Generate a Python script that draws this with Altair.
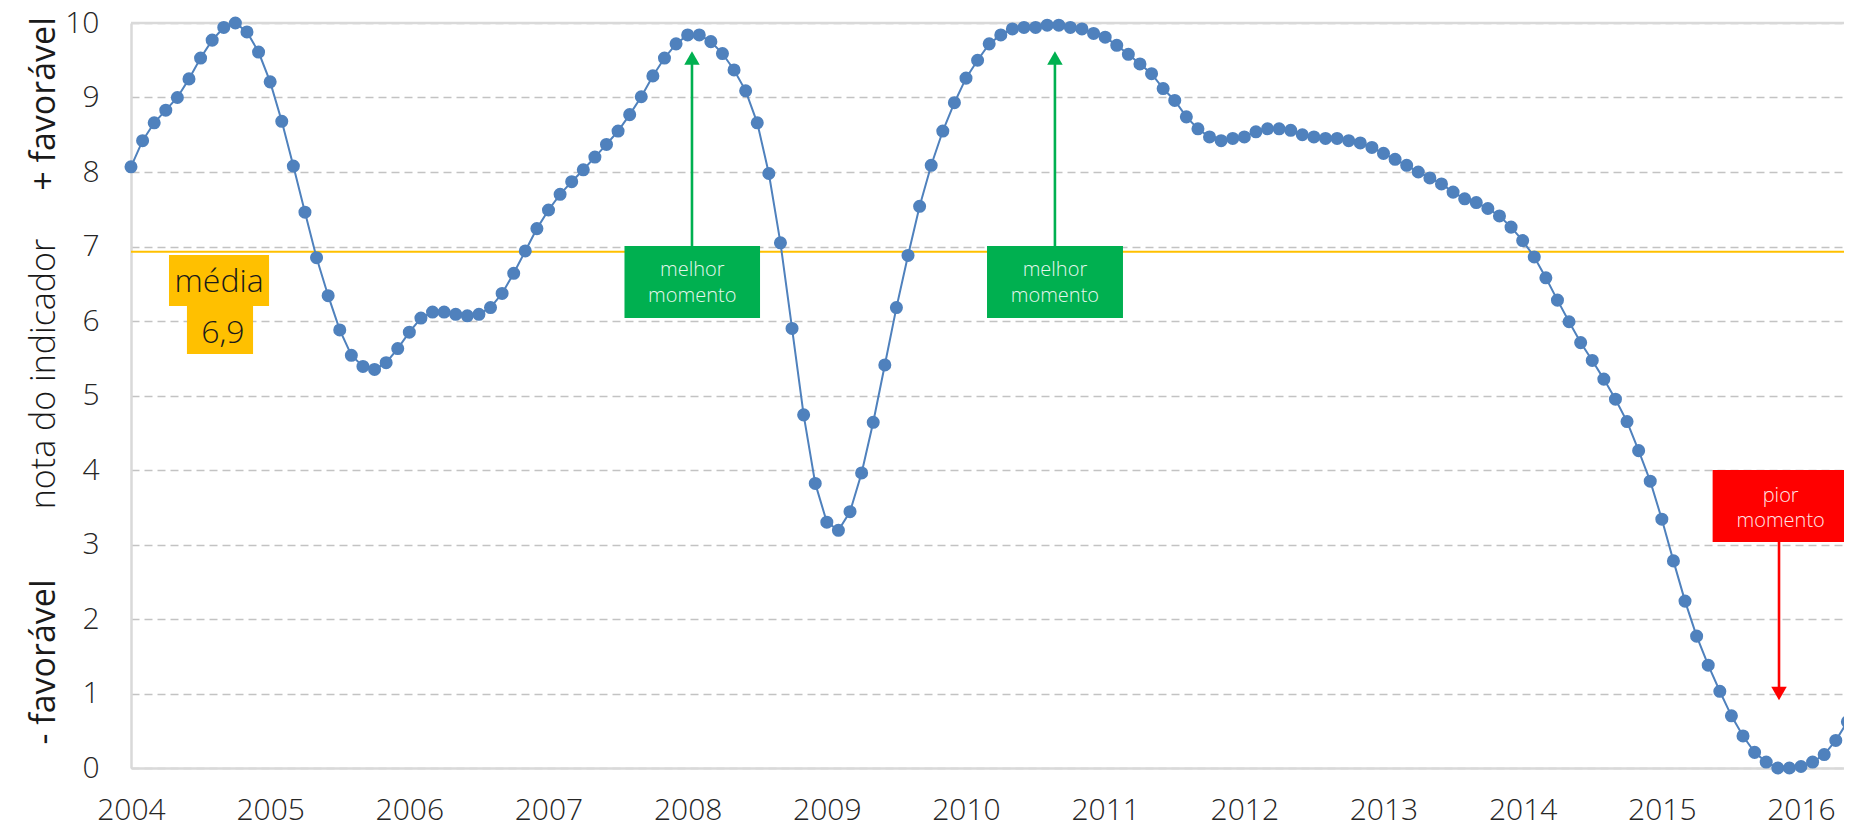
import altair as alt
import pandas as pd

# ---------------- data (monthly, Jan 2004 onwards) ----------------
start_year = 2004
nota = [
    8.07, 8.42, 8.66, 8.83, 9.00, 9.25, 9.53, 9.77, 9.94, 10.0, 9.88, 9.61,   # 2004
    9.21, 8.68, 8.08, 7.46, 6.85, 6.34, 5.88, 5.54, 5.39, 5.35, 5.44, 5.63,   # 2005
    5.85, 6.04, 6.12, 6.12, 6.09, 6.07, 6.09, 6.18, 6.37, 6.64, 6.94, 7.24,   # 2006
    7.49, 7.70, 7.87, 8.03, 8.20, 8.37, 8.55, 8.77, 9.01, 9.29, 9.53, 9.72,   # 2007
    9.84, 9.84, 9.75, 9.59, 9.37, 9.09, 8.66, 7.98, 7.05, 5.90, 4.74, 3.82,   # 2008
    3.30, 3.19, 3.44, 3.96, 4.64, 5.41, 6.18, 6.88, 7.54, 8.09, 8.55, 8.93,   # 2009
    9.26, 9.50, 9.72, 9.84, 9.92, 9.94, 9.94, 9.97, 9.97, 9.94, 9.92, 9.86,   # 2010
    9.81, 9.70, 9.58, 9.45, 9.32, 9.12, 8.96, 8.74, 8.58, 8.47, 8.42, 8.45,   # 2011
    8.47, 8.54, 8.58, 8.58, 8.56, 8.50, 8.47, 8.45, 8.45, 8.42, 8.39, 8.33,   # 2012
    8.25, 8.17, 8.09, 8.00, 7.92, 7.84, 7.73, 7.64, 7.59, 7.51, 7.41, 7.26,   # 2013
    7.08, 6.86, 6.58, 6.28, 5.99, 5.71, 5.47, 5.22, 4.95, 4.65, 4.26, 3.85,   # 2014
    3.34, 2.78, 2.24, 1.77, 1.38, 1.03, 0.70, 0.43, 0.21, 0.08, 0.00, 0.00,   # 2015
    0.02, 0.08, 0.18, 0.37, 0.62, 0.89,                                       # 2016
]
year_ticks = list(range(2004, 2017))
y_ticks = list(range(0, 11))
media = 6.93
media_labels = ["média", "6,9"]

# annotation boxes (in data units: decimal year / score)
box_x = [2004.273, 2004.402, 2007.546, 2010.151, 2015.365]
box_x2 = [2004.992, 2004.877, 2008.520, 2011.128, 2016.344]
box_y = [6.886, 6.201, 7.007, 7.007, 4.000]
box_y2 = [6.201, 5.557, 6.040, 6.040, 3.034]
box_color = ["#FFC000", "#FFC000", "#00B050", "#00B050", "#FF0000"]

# arrows
arrow_x = [2008.031, 2010.639, 2015.842]
arrow_from = [7.007, 7.007, 3.034]
arrow_to = [9.53, 9.53, 1.00]
arrow_shape = ["triangle-up", "triangle-up", "triangle-down"]
arrow_color = ["#00B050", "#00B050", "#FF0000"]

# box texts
media_text_x = [2004.633, 2004.66]
media_text_y = [6.52, 5.84]
box_text = ["melhor", "momento", "melhor", "momento", "pior", "momento"]
box_text_x = [2008.033, 2008.033, 2010.639, 2010.639, 2015.854, 2015.854]
box_text_y = [6.685, 6.336, 6.685, 6.336, 3.651, 3.315]

# y-axis side titles
side_text = ["+ favorável", "nota do indicador", "- favorável"]
side_text_y = [8.913, 5.289, 1.423]
side_weight = [400, 300, 400]

FONT = "Open Sans"
TXT = "#262626"

# ---------------- tables ----------------
df = pd.DataFrame({"t": [start_year + i / 12 for i in range(len(nota))], "v": nota})
boxes = pd.DataFrame({"t": box_x, "t2": box_x2, "v": box_y, "v2": box_y2, "c": box_color})
arrows = pd.DataFrame({"t": arrow_x, "v": arrow_from, "v2": arrow_to, "s": arrow_shape, "c": arrow_color})
mtext = pd.DataFrame({"t": media_text_x, "v": media_text_y, "txt": media_labels})
btext = pd.DataFrame({"t": box_text_x, "v": box_text_y, "txt": box_text})
stext = pd.DataFrame({"v": side_text_y, "txt": side_text, "w": side_weight})
mean_df = pd.DataFrame({"v": [media]})
top_df = pd.DataFrame({"v": [10]})

x_scale = alt.Scale(domain=[2004, 2016.309], nice=False, zero=False)
y_scale = alt.Scale(domain=[0, 10], nice=False, zero=True)
x_axis = alt.Axis(values=year_ticks, format="d", title=None, grid=False, ticks=False,
                  domain=True, domainColor="#D9D9D9", domainWidth=2.5,
                  labelFont=FONT, labelFontSize=30, labelFontWeight=300, labelColor=TXT,
                  labelPadding=27, labelFlush=False)
y_axis = alt.Axis(values=y_ticks, format="d", title=None, grid=True, gridDash=[8, 5],
                  gridColor="#C3C3C3", gridWidth=1.6, ticks=False,
                  domain=True, domainColor="#D9D9D9", domainWidth=2.5,
                  labelFont=FONT, labelFontSize=30, labelFontWeight=300, labelColor=TXT,
                  labelPadding=32)

X = alt.X("t:Q", scale=x_scale, axis=x_axis, title=None)
Y = alt.Y("v:Q", scale=y_scale, axis=y_axis, title=None)

top_rule = alt.Chart(top_df).mark_rule(color="#D9D9D9", strokeWidth=2.5).encode(y=Y)
mean_rule = alt.Chart(mean_df).mark_rule(color="#FFC000", strokeWidth=2).encode(y=Y)

rects = alt.Chart(boxes).mark_rect().encode(
    x=X, x2="t2:Q", y=Y, y2="v2:Q", color=alt.Color("c:N", scale=None)
)
arrow_lines = alt.Chart(arrows).mark_rule(strokeWidth=2.6).encode(
    x=X, y=Y, y2="v2:Q", color=alt.Color("c:N", scale=None)
)
arrow_heads = alt.Chart(arrows).mark_point(filled=True, size=240, opacity=1).encode(
    x=X, y=alt.Y("v2:Q", scale=y_scale, axis=y_axis, title=None),
    shape=alt.Shape("s:N", scale=None), color=alt.Color("c:N", scale=None)
)

line = alt.Chart(df).mark_line(color="#4F81BD", strokeWidth=2).encode(x=X, y=Y)
points = alt.Chart(df).mark_circle(color="#4F81BD", size=170, opacity=1).encode(x=X, y=Y)

media_txt = alt.Chart(mtext).mark_text(font=FONT, fontSize=32, fontWeight=300,
                                       color="#1A1A1A", align="center", baseline="middle").encode(
    x=X, y=Y, text="txt:N")
box_txt = alt.Chart(btext).mark_text(font=FONT, fontSize=20, fontWeight=300,
                                     color="#FFFFFF", opacity=0.9, align="center",
                                     baseline="middle").encode(x=X, y=Y, text="txt:N")

side_bold = alt.Chart(stext[stext["w"] == 400]).mark_text(
    font=FONT, fontSize=34, fontWeight=400, color="#1A1A1A", angle=270,
    align="center", baseline="middle").encode(x=alt.value(-86), y=Y, text="txt:N")
side_light = alt.Chart(stext[stext["w"] == 300]).mark_text(
    font=FONT, fontSize=34, fontWeight=300, color="#1A1A1A", angle=270,
    align="center", baseline="middle").encode(x=alt.value(-86), y=Y, text="txt:N")

chart = alt.layer(
    top_rule, mean_rule, rects, arrow_lines, arrow_heads, line, points,
    media_txt, box_txt, side_bold, side_light
).properties(
    width=1713, height=745,
    autosize=alt.AutoSizeParams(type="none"),
    padding={"left": 123, "top": 15, "right": 0, "bottom": 59},
).configure_view(
    fill="#F2F2F2", stroke=None
).configure(background="#FFFFFF")

chart.save("out.html", embed_options={"renderer": "svg", "actions": False})
